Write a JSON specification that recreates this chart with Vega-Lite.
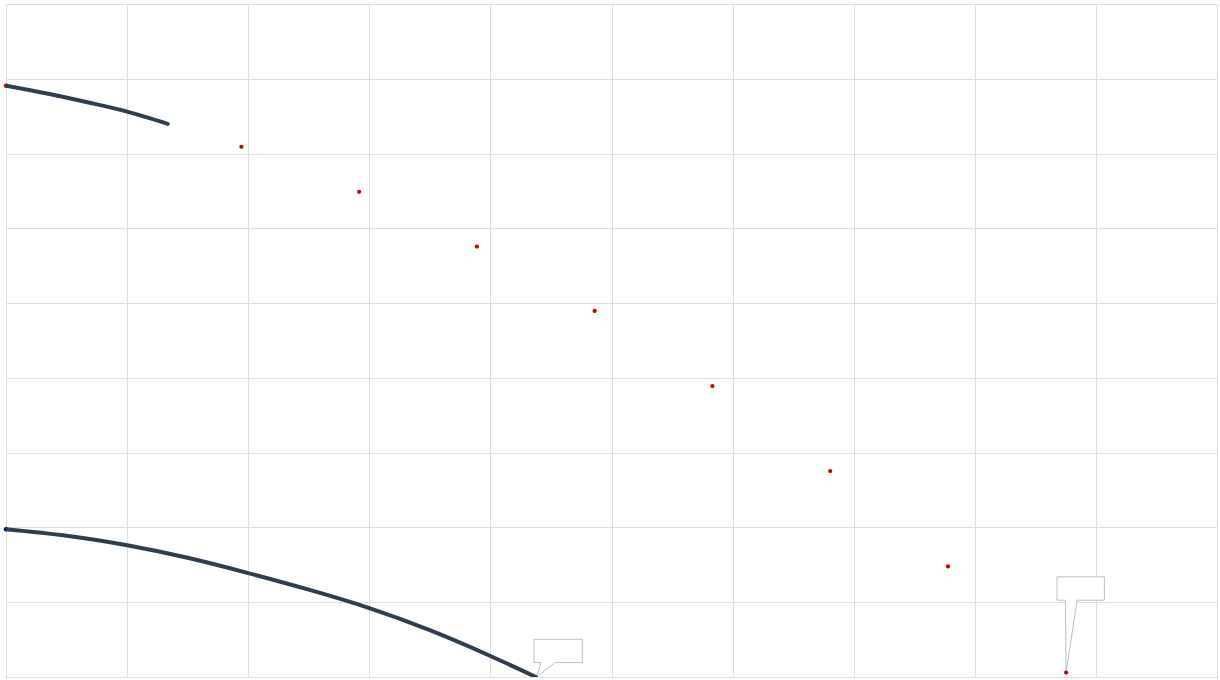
{
  "$schema": "https://vega.github.io/schema/vega-lite/v6.json",
  "width": 1220,
  "height": 680,
  "autosize": {"type": "fit", "contains": "padding"},
  "padding": {"left": 3, "top": 4, "right": 3, "bottom": 3},
  "background": "white",
  "config": {
    "view": {"stroke": "#d2d2d2", "strokeWidth": 1},
    "axis": {"labels": false, "ticks": false, "domain": false, "title": null, "grid": true, "gridColor": "#dddddd", "gridWidth": 1, "gridOpacity": 1, "minExtent": 0, "maxExtent": 0}
  },
  "datasets": {
    "curves": [
      {"series": "upper", "x": 0, "y": 7.908},
      {"series": "upper", "x": 0.35, "y": 7.8},
      {"series": "upper", "x": 0.7, "y": 7.676},
      {"series": "upper", "x": 1.0, "y": 7.56},
      {"series": "upper", "x": 1.335, "y": 7.397},
      {"series": "lower", "x": 0, "y": 1.977},
      {"series": "lower", "x": 0.5, "y": 1.89},
      {"series": "lower", "x": 1.0, "y": 1.763},
      {"series": "lower", "x": 1.5, "y": 1.595},
      {"series": "lower", "x": 2.0, "y": 1.39},
      {"series": "lower", "x": 2.5, "y": 1.168},
      {"series": "lower", "x": 3.0, "y": 0.922},
      {"series": "lower", "x": 3.5, "y": 0.626},
      {"series": "lower", "x": 4.0, "y": 0.281},
      {"series": "lower", "x": 4.376, "y": 0.0}
    ],
    "starts": [
      {"series": "upper", "x": 0, "y": 7.908},
      {"series": "lower", "x": 0, "y": 1.977}
    ],
    "dots": [
      {"x": 1.944, "y": 7.091},
      {"x": 2.916, "y": 6.489},
      {"x": 3.888, "y": 5.756},
      {"x": 4.861, "y": 4.896},
      {"x": 5.833, "y": 3.891},
      {"x": 6.806, "y": 2.754},
      {"x": 7.779, "y": 1.478},
      {"x": 8.754, "y": 0.059}
    ],
    "callouts": [
      {"id": "a", "k": 0, "x": 4.36, "y": 0.193},
      {"id": "a", "k": 1, "x": 4.36, "y": 0.505},
      {"id": "a", "k": 2, "x": 4.759, "y": 0.505},
      {"id": "a", "k": 3, "x": 4.759, "y": 0.193},
      {"id": "a", "k": 4, "x": 4.533, "y": 0.193},
      {"id": "a", "k": 5, "x": 4.38, "y": 0.0},
      {"id": "a", "k": 6, "x": 4.4, "y": 0.1},
      {"id": "a", "k": 7, "x": 4.417, "y": 0.193},
      {"id": "a", "k": 8, "x": 4.36, "y": 0.193},
      {"id": "b", "k": 0, "x": 8.679, "y": 1.027},
      {"id": "b", "k": 1, "x": 8.679, "y": 1.339},
      {"id": "b", "k": 2, "x": 9.07, "y": 1.339},
      {"id": "b", "k": 3, "x": 9.07, "y": 1.027},
      {"id": "b", "k": 4, "x": 8.845, "y": 1.027},
      {"id": "b", "k": 5, "x": 8.754, "y": 0.067},
      {"id": "b", "k": 6, "x": 8.748, "y": 1.027},
      {"id": "b", "k": 7, "x": 8.679, "y": 1.027}
    ]
  },
  "encoding": {
    "x": {"field": "x", "type": "quantitative", "scale": {"domain": [0, 10], "nice": false, "zero": false}, "axis": {"values": [0, 1, 2, 3, 4, 5, 6, 7, 8, 9, 10]}},
    "y": {"field": "y", "type": "quantitative", "scale": {"domain": [0, 9], "nice": false, "zero": false}, "axis": {"values": [0, 1, 2, 3, 4, 5, 6, 7, 8, 9]}}
  },
  "layer": [
    {
      "data": {"name": "callouts"},
      "mark": {"type": "line", "stroke": "#bdbdbd", "strokeWidth": 1, "fill": "white", "strokeJoin": "miter", "clip": true},
      "encoding": {"detail": {"field": "id"}, "order": {"field": "k", "type": "quantitative"}}
    },
    {
      "data": {"name": "starts"},
      "mark": {"type": "circle", "size": 20, "opacity": 1},
      "encoding": {"color": {"field": "series", "type": "nominal", "scale": {"domain": ["upper", "lower"], "range": ["#cc0000", "#0000cc"]}, "legend": null}}
    },
    {
      "data": {"name": "curves"},
      "mark": {"type": "line", "color": "#2c3e50", "strokeWidth": 4, "strokeCap": "round", "interpolate": "natural", "clip": true},
      "encoding": {"detail": {"field": "series"}}
    },
    {
      "data": {"name": "dots"},
      "mark": {"type": "circle", "size": 18, "color": "#cc0000", "opacity": 1}
    }
  ]
}
